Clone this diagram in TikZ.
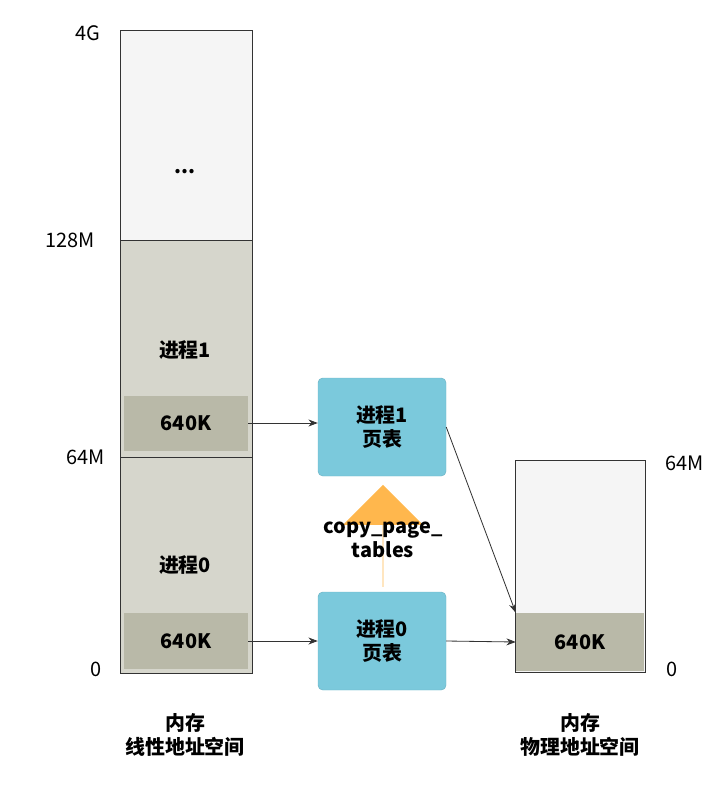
\documentclass[tikz,border=0pt]{standalone}
\usepackage{fontspec}
\setmainfont{Noto Sans CJK SC}
\usetikzlibrary{arrows.meta,shapes.arrows}
\definecolor{lite}{HTML}{F5F5F5}
\definecolor{proc}{HTML}{D6D6CC}
\definecolor{dark}{HTML}{B9B9A8}
\definecolor{tbl}{HTML}{7BC9DC}
\definecolor{org}{HTML}{FFB74D}
\begin{document}
\begin{tikzpicture}[x=0.03cm,y=-0.03cm,
  lbl/.style={font=\fontsize{17}{20}\selectfont},
  bl/.style={font=\fontsize{17}{21}\selectfont\bfseries,align=center},
  tblbox/.style={draw=tbl!90!black,fill=tbl,rounded corners=4pt,minimum width=128*0.03cm,minimum height=98*0.03cm,font=\fontsize{17}{21}\selectfont\bfseries,align=center},
  conn/.style={-{Stealth[length=8pt,width=6pt]},line width=0.7pt,draw=black!80}]
\useasboundingbox (0,0) rectangle (715,790);
% left column
\draw[fill=lite,draw=black!80] (120,30) rectangle (252,240);
\draw[fill=proc,draw=black!80] (120,240) rectangle (252,457);
\draw[fill=proc,draw=black!80] (120,457) rectangle (252,673);
\node[fill=dark,minimum width=124*0.03cm,minimum height=55*0.03cm,inner sep=0,bl] (k1) at (186,423) {640K};
\node[fill=dark,minimum width=124*0.03cm,minimum height=56*0.03cm,inner sep=0,bl] (k0) at (186,641) {640K};
\node[lbl] (l4g) at (88,33) {4G};
\node[lbl] (l128) at (70,240) {128M};
\node[lbl] (l64) at (86,457) {64M};
\node[lbl] (l0) at (96,669) {0};
\node[bl] (dots) at (185,172) {...};
\node[bl] (p1) at (185,350) {进程1};
\node[bl] (p0) at (185,565) {进程0};
\node[bl] (m1) at (185,735) {内存\\线性地址空间};
% orange arrow
\node[single arrow,fill=org,shape border rotate=90,minimum width=80*0.03cm,single arrow head extend=20*0.03cm,minimum height=102*0.03cm,single arrow head indent=0pt,inner sep=0] (oa) at (383,536) {};
\node[bl] (cp) at (383,540) {copy\_page\_\\tables};
% tables
\node[tblbox] (t1) at (382,427) {进程1\\页表};
\node[tblbox] (t0) at (382,641) {进程0\\页表};
% right column
\draw[fill=lite,draw=black!80] (515,460) rectangle (645,672);
\node[fill=dark,minimum width=128*0.03cm,minimum height=58*0.03cm,inner sep=0,bl] (pk) at (580,642) {640K};
\draw[draw=black!80] (515,460) rectangle (645,672);
\node[lbl] (r64) at (685,463) {64M};
\node[lbl] (r0) at (672,669) {0};
\node[bl] (m2) at (580,735) {内存\\物理地址空间};
% connectors
\draw[conn] (k1.east) -- (t1.west|-k1.east);
\draw[conn] (k0.east) -- (t0.west|-k0.east);
\draw[conn] (t0.east) -- (pk.west);
\draw[conn] (t1.east) -- (pk.north west);
\end{tikzpicture}
\end{document}
